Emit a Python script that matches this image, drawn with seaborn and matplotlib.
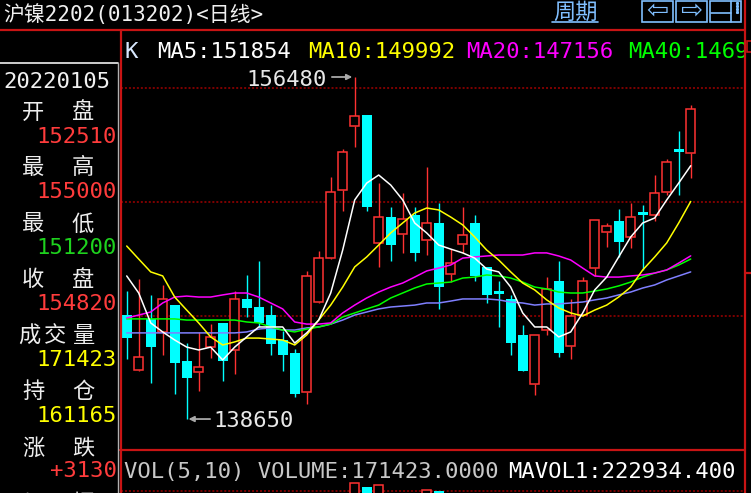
import numpy as np
import pandas as pd
import matplotlib
matplotlib.use("Agg")
import matplotlib.pyplot as plt
import seaborn as sns
from matplotlib.patches import Rectangle

# ── data ─────────────────────────────────────────────────────
opens = [144070, 141210, 143870, 143190, 144590, 141680, 141100, 142400, 143660, 142250,
         144910, 144490, 144070, 142770, 142090, 140060, 144750, 147040, 150590, 153930,
         154500, 147830, 149180, 148300, 149290, 147980, 148870, 146210, 147770, 148870,
         146580, 145320, 144910, 143030, 140480, 143290, 145850, 142460, 144070, 146520,
         148400, 148970, 148140, 149420, 149290, 150490, 152730, 152510]
highs = [145320, 145950, 145120, 145640, 144590, 142610, 143190, 143600, 143660, 145320,
         146160, 146890, 144590, 143240, 142300, 146370, 147410, 151270, 152730, 156480,
         154500, 150950, 149700, 150430, 149700, 151790, 149910, 147510, 149700, 149290,
         146580, 145850, 145120, 143550, 143030, 146050, 146890, 144910, 146050, 149030,
         148870, 149600, 149910, 149810, 151370, 152210, 153670, 155000]
lows = [141780, 141150, 140530, 141990, 139960, 138650, 140110, 141830, 140630, 141000,
        143970, 143450, 141990, 141150, 139800, 139430, 144700, 147000, 149500, 152830,
        149500, 146580, 146890, 147310, 146890, 147200, 144390, 145790, 147310, 145850,
        144700, 143450, 141990, 141150, 139900, 143030, 141880, 141780, 144000, 146110,
        147620, 147100, 147570, 146420, 148970, 150330, 150330, 151200]
closes = [142870, 141880, 142400, 144910, 141570, 140790, 141360, 142930, 141680, 144910,
          144440, 143660, 142560, 141990, 139960, 146110, 147040, 150490, 152570, 154450,
          149700, 149180, 147720, 149080, 147310, 148870, 145530, 146780, 148240, 146110,
          145120, 145170, 142610, 141150, 143030, 145430, 142090, 144020, 145850, 149030,
          148710, 147880, 149180, 149310, 150430, 152050, 152570, 154820]
volumes = [196000, 178000, 205000, 188000, 231000, 246000, 172000, 160000, 214000, 236000,
           182000, 204000, 199000, 175000, 238000, 281000, 262000, 285000, 276000, 330000,
           314000, 322000, 268000, 241000, 257000, 301000, 298000, 224000, 197000, 246000,
           229000, 213000, 251000, 262000, 270000, 233000, 265000, 218000, 187000, 242000,
           169000, 201000, 188000, 228000, 236000, 241000, 238247, 171423]

ma5 = [146110, 145220, 143660, 143190, 142770, 142400, 142250, 142400, 141730, 142400,
       142930, 143450, 143450, 143450, 142610, 143140, 143810, 145220, 147460, 150070,
       150950, 151370, 150850, 150070, 148870, 148350, 147720, 147510, 147310, 147040,
       146470, 146320, 145530, 144180, 143450, 143450, 142930, 143190, 144180, 145380,
       146050, 147100, 148140, 148870, 149130, 150070, 150950, 151854]
ma10 = [147670, 146990, 146320, 146110, 145010, 144330, 143660, 142930, 142510, 142670,
        142870, 142870, 142820, 142770, 142510, 143030, 143810, 144590, 145530, 146580,
        147100, 147720, 148350, 148870, 149390, 149650, 149550, 149180, 148770, 148140,
        147460, 146940, 146320, 145740, 145380, 144860, 144440, 144180, 144020, 144330,
        144590, 145010, 145530, 146420, 147100, 147830, 148870, 149992]
ma20 = [143920, 144070, 144230, 144700, 145010, 145060, 145010, 145010, 145120, 145220,
        145220, 145010, 144700, 144390, 143710, 143600, 143600, 143660, 144180, 144590,
        144960, 145270, 145530, 145740, 146050, 146370, 146520, 146680, 147040, 147100,
        147150, 147200, 147200, 147200, 147310, 147310, 147150, 146940, 146520, 146110,
        146050, 146050, 146110, 146160, 146260, 146420, 146780, 147156]
ma40 = [143870, 143870, 143870, 143870, 143870, 143810, 143810, 143810, 143810, 143810,
        143710, 143660, 143450, 143290, 143190, 143340, 143450, 143600, 143970, 144180,
        144390, 144590, 144960, 145220, 145480, 145690, 145740, 145790, 146000, 146050,
        146160, 146110, 146000, 145790, 145530, 145430, 145270, 145220, 145220, 145320,
        145430, 145590, 145790, 146050, 146260, 146420, 146680, 146990]
ma60 = [143140, 143140, 143140, 143140, 143140, 143140, 143140, 143140, 143140, 143140,
        143190, 143340, 143400, 143290, 143290, 143400, 143450, 143600, 143810, 144070,
        144230, 144390, 144490, 144540, 144590, 144700, 144700, 144800, 144910, 144910,
        144910, 144860, 144750, 144700, 144590, 144650, 144650, 144700, 144750, 144860,
        144960, 145120, 145270, 145480, 145640, 145900, 146110, 146320]

grid_levels = [144020, 149960, 155900]
panel_labels = ["开盘", "最高", "最低", "收盘", "成交量", "持仓", "涨跌", "振幅"]
panel_values = [str(opens[-1]), str(highs[-1]), str(lows[-1]), str(closes[-1]),
                str(volumes[-1]), "161165", "+3130", ""]
panel_colors = ["#FF3C3C", "#FF3C3C", "#1ED21E", "#FF3C3C",
                "#FFFF00", "#FFFF00", "#FF3C3C", "#FF3C3C"]
date_text = "20220105"
title_text = "沪镍2202(013202)<日线>"

RED = "#FF3232"
CYAN = "#00FFFF"
FRAME = "#C81414"
BTN = "#80BFFF"

# ── style ────────────────────────────────────────────────────
sns.set_theme(style="dark", rc={"axes.facecolor": "black", "figure.facecolor": "black"})
plt.rcParams["font.family"] = ["DejaVu Sans Mono", "Noto Sans CJK SC"]

W, H = 751, 493
fig = plt.figure(figsize=(W / 100, H / 100), dpi=100, facecolor="black")


def box(x0, y0, x1, y1):
    return [x0 / W, 1 - y1 / H, (x1 - x0) / W, (y1 - y0) / H]


ax = fig.add_axes(box(121, 31, 745, 449))
vax = fig.add_axes(box(121, 451, 745, 493))
ov = fig.add_axes(box(0, 0, W, H))
ov.set_xlim(0, W)
ov.set_ylim(H, 0)
ov.axis("off")

for a in (ax, vax):
    a.set_facecolor("black")
    for s in a.spines.values():
        s.set_visible(False)
    a.set_xticks([])
    a.set_yticks([])

# ── K-line ───────────────────────────────────────────────────
x = np.arange(len(opens))
for i in x:
    o, h, l, c = opens[i], highs[i], lows[i], closes[i]
    if c >= o:
        ax.vlines(i, c, h, color=RED, lw=1.0, zorder=2)
        ax.vlines(i, l, o, color=RED, lw=1.0, zorder=2)
        ax.bar(i, c - o, bottom=o, width=0.72, facecolor="black", edgecolor=RED, lw=1.1, zorder=3)
    else:
        ax.vlines(i, l, h, color=CYAN, lw=1.0, zorder=2)
        ax.bar(i, o - c, bottom=c, width=0.82, color=CYAN, lw=0, zorder=3)

for g in grid_levels:
    ax.axhline(g, color="#A00000", lw=1.1, ls=(0, (1.3, 1.3)), zorder=1)

ma_df = pd.DataFrame({"idx": x, "MA5": ma5, "MA10": ma10, "MA20": ma20,
                      "MA40": ma40, "MA60": ma60})
for name, col in [("MA60", "#7F7FFF"), ("MA40", "#00FF00"), ("MA20", "#FF00FF"),
                  ("MA10", "#FFFF00"), ("MA5", "#FFFFFF")]:
    sns.lineplot(data=ma_df, x="idx", y=name, color=col, lw=1.1, ax=ax, zorder=4)
ax.set_xlabel("")
ax.set_ylabel("")
ax.set_xlim(-0.475, 51.525)
ax.set_ylim(137088, 158878)

imax = int(np.argmax(highs))
imin = int(np.argmin(lows))
arrow = dict(arrowstyle="-|>", color="#A8A8A8", lw=1.3, mutation_scale=8, shrinkA=0, shrinkB=0)
ax.annotate("", xy=(imax - 0.2, highs[imax]), xytext=(imax - 1.9, highs[imax]),
            arrowprops=arrow, zorder=6)
ax.annotate(f"{highs[imax]}", xy=(imax, highs[imax]), xytext=(-20, -6.5),
            textcoords="offset points", ha="right", va="baseline",
            color="#E8E8E8", fontsize=16, zorder=6)
ax.annotate("", xy=(imin + 0.15, lows[imin]), xytext=(imin + 1.95, lows[imin]),
            arrowprops=arrow, zorder=6)
ax.annotate(f"{lows[imin]}", xy=(imin, lows[imin]), xytext=(19, -6),
            textcoords="offset points", ha="left", va="baseline",
            color="#E8E8E8", fontsize=16, zorder=6)

# MA header, clipped at the right border
ma_heads = [("K", 125, "#D8E8FF"), (f"MA5:{ma5[-1]}", 157, "#FFFFFF"),
            (f"MA10:{ma10[-1]}", 308, "#FFFF00"), (f"MA20:{ma20[-1]}", 466, "#FF00FF"),
            (f"MA40:{ma40[-1]}", 628, "#00FF00")]
for txt, px, col in ma_heads:
    ax.text(px, 58, txt, transform=ov.transData, color=col, fontsize=16,
            va="baseline", clip_on=True)

# ── volume ───────────────────────────────────────────────────
for i in x:
    if closes[i] >= opens[i]:
        vax.bar(i, volumes[i], width=0.72, facecolor="black", edgecolor=RED, lw=1.1, zorder=3)
    else:
        vax.bar(i, volumes[i], width=0.82, color=CYAN, lw=0, zorder=3)
vax.axhline(300000, color="#A00000", lw=1.1, ls=(0, (1.3, 1.3)), zorder=1)
vax.set_xlim(-0.475, 51.525)
vax.set_ylim(290000, 458000)

# ── frame and header ─────────────────────────────────────────
ov.plot([0, 745], [30, 30], color=FRAME, lw=1.6)
ov.plot([745, 745], [0, H], color=FRAME, lw=1.6)
ov.plot([120.5, 120.5], [30, H], color=FRAME, lw=1.6)
ov.plot([120, 745], [450, 450], color=FRAME, lw=1.6)
ov.plot([745, 751], [273, 273], color=FRAME, lw=1.6)
ov.add_patch(Rectangle((746.5, 41), 5, 11, fill=False, ec=FRAME, lw=1.2))
ov.plot([0, 118], [63, 63], color="#F0F0F0", lw=1.2)
ov.plot([118.3, 118.3], [63, H], color="#B0B0B0", lw=1.0)

ov.text(3, 21, title_text, color="#F0F0F0", fontsize=15, va="baseline")
ov.text(553, 19, "周期", color=BTN, fontsize=16, va="baseline")
ov.plot([552, 598], [21.5, 21.5], color=BTN, lw=1.2)
for bx in (642, 676, 710):
    ov.add_patch(Rectangle((bx, 0.8), 31, 21.5, fill=False, ec=BTN, lw=1.2))
ov.text(657.5, 11.5, "⇦", ha="center", va="center", fontsize=19, family="DejaVu Sans", color=BTN)
ov.text(691, 11.5, "⇨", ha="center", va="center", fontsize=19, family="DejaVu Sans", color=BTN)
ov.plot([711, 731], [13, 13], color=BTN, lw=1.2)
ov.plot([731, 731], [1, 22], color=BTN, lw=1.2)
ov.plot([736.5] * 4, [3, 6, 9, 12], ls="none", marker="s", ms=1.2, color=BTN)

# ── left info panel ──────────────────────────────────────────
ov.text(3, 88, date_text, color="#F0F0F0", fontsize=16, va="baseline")
for k, (lab, val, col) in enumerate(zip(panel_labels, panel_values, panel_colors)):
    ly = 110 + 56 * k
    xs = [29, 55, 84] if len(lab) == 3 else [33, 83]
    for ch, cx in zip(lab, xs):
        ov.text(cx, ly + 8.5, ch, color="#EEEEEE", fontsize=16, ha="center", va="baseline")
    if val:
        ov.text(117, 134 + 55.8 * k + 8.7, val, color=col, fontsize=16, ha="right", va="baseline")

ov.text(124, 478, f"VOL(5,10) VOLUME:{volumes[-1]:.4f}", color="#C8C8C8", fontsize=16, va="baseline")
ov.text(508, 478, "MAVOL1:222934.400", color="#FFFFFF", fontsize=16, va="baseline")

fig.savefig("out.png", dpi=100, facecolor="black")
